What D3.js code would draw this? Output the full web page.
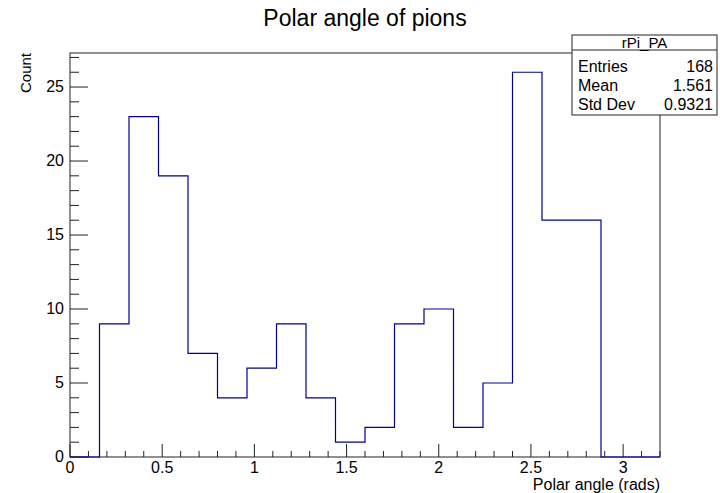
<!DOCTYPE html>
<html>
<head>
<meta charset="utf-8">
<script src="https://cdn.jsdelivr.net/npm/d3@7"></script>
<style>
  body { margin: 0; background: #fff; }
  svg { display: block; font-family: "Liberation Sans", Arial, sans-serif; }
</style>
</head>
<body>
<div id="chart"></div>
<script>
// bin edges: 20 bins from 0 to 3.2
var binLow = [0, 0.16, 0.32, 0.48, 0.64, 0.8, 0.96, 1.12, 1.28, 1.44,
              1.6, 1.76, 1.92, 2.08, 2.24, 2.4, 2.56, 2.72, 2.88, 3.04];
var binWidth = 0.16;
var counts = [0, 9, 23, 19, 7, 4, 6, 9, 4, 1,
              2, 9, 10, 2, 5, 26, 16, 16, 0, 0];
var xTicks = [0, 0.5, 1, 1.5, 2, 2.5, 3];
var yTicks = [0, 5, 10, 15, 20, 25];
var statLabels = ['Entries', 'Mean', 'Std Dev'];
var statValues = ['168', '1.561', '0.9321'];

var width = 720, height = 493;
var margin = {top: 53, right: 60, bottom: 36, left: 70};

var svg = d3.select('#chart').append('svg')
  .attr('width', width)
  .attr('height', height);

var x = d3.scaleLinear().domain([0, 3.2]).range([margin.left, width - margin.right]);
var y = d3.scaleLinear().domain([0, 27.3]).range([height - margin.bottom, margin.top]);

var lineColor = '#000099';

// title
svg.append('text')
  .attr('x', 365).attr('y', 26)
  .attr('text-anchor', 'middle')
  .style('font-size', '23px')
  .text('Polar angle of pions');

// frame
svg.append('rect')
  .attr('x', x(0)).attr('y', y(27.3))
  .attr('width', x(3.2) - x(0))
  .attr('height', y(0) - y(27.3))
  .attr('fill', 'none')
  .attr('stroke', '#222')
  .attr('stroke-width', 1);

// x axis ticks (minor every 0.1)
var xMinor = d3.range(0, 33).map(function(i) { return i / 10; });
svg.append('g').selectAll('line')
  .data(xMinor)
  .enter().append('line')
    .attr('x1', function(d) { return x(d); })
    .attr('x2', function(d) { return x(d); })
    .attr('y1', y(0))
    .attr('y2', function(d, i) { return y(0) - (i % 5 === 0 ? 13 : 6); })
    .attr('stroke', '#222');

svg.append('g').selectAll('text')
  .data(xTicks)
  .enter().append('text')
    .attr('x', function(d) { return x(d); })
    .attr('y', y(0) + 16)
    .attr('text-anchor', 'middle')
    .style('font-size', '16px')
    .text(function(d) { return d; });

// y axis ticks (minor every 1)
var yMinor = d3.range(0, 28);
svg.append('g').selectAll('line')
  .data(yMinor)
  .enter().append('line')
    .attr('y1', function(d) { return y(d); })
    .attr('y2', function(d) { return y(d); })
    .attr('x1', x(0))
    .attr('x2', function(d) { return x(0) + (d % 5 === 0 ? 18 : 9); })
    .attr('stroke', '#222');

svg.append('g').selectAll('text')
  .data(yTicks)
  .enter().append('text')
    .attr('x', x(0) - 6)
    .attr('y', function(d) { return y(d) + 5; })
    .attr('text-anchor', 'end')
    .style('font-size', '16px')
    .text(function(d) { return d; });

// axis titles
svg.append('text')
  .attr('transform', 'translate(31,53) rotate(-90)')
  .attr('text-anchor', 'end')
  .style('font-size', '15px')
  .text('Count');

svg.append('text')
  .attr('x', x(3.2)).attr('y', 490)
  .attr('text-anchor', 'end')
  .style('font-size', '16px')
  .text('Polar angle (rads)');

// histogram outline as a step path
var pts = [[binLow[0], 0]];
counts.forEach(function(c, i) {
  pts.push([binLow[i], c]);
  pts.push([binLow[i] + binWidth, c]);
});
pts.push([binLow[binLow.length - 1] + binWidth, 0]);

var line = d3.line()
  .x(function(d) { return x(d[0]); })
  .y(function(d) { return y(d[1]); });

svg.append('path')
  .attr('d', line(pts))
  .attr('fill', 'none')
  .attr('stroke', lineColor)
  .attr('stroke-width', 1.2);

// stats box
var bx = 572, by = 35, bw = 145, bh = 80;
var stats = svg.append('g');
stats.append('rect')
  .attr('x', bx).attr('y', by)
  .attr('width', bw).attr('height', bh)
  .attr('fill', '#fff')
  .attr('stroke', '#222');
stats.append('line')
  .attr('x1', bx).attr('x2', bx + bw)
  .attr('y1', by + 15).attr('y2', by + 15)
  .attr('stroke', '#222');
stats.append('text')
  .attr('x', bx + bw / 2).attr('y', by + 13)
  .attr('text-anchor', 'middle')
  .style('font-size', '15px')
  .text('rPi_PA');
statLabels.forEach(function(lbl, i) {
  var ty = by + 37 + i * 19;
  stats.append('text')
    .attr('x', bx + 6).attr('y', ty)
    .style('font-size', '16px')
    .text(lbl);
  stats.append('text')
    .attr('x', bx + bw - 4).attr('y', ty)
    .attr('text-anchor', 'end')
    .style('font-size', '16px')
    .text(statValues[i]);
});
</script>
</body>
</html>
